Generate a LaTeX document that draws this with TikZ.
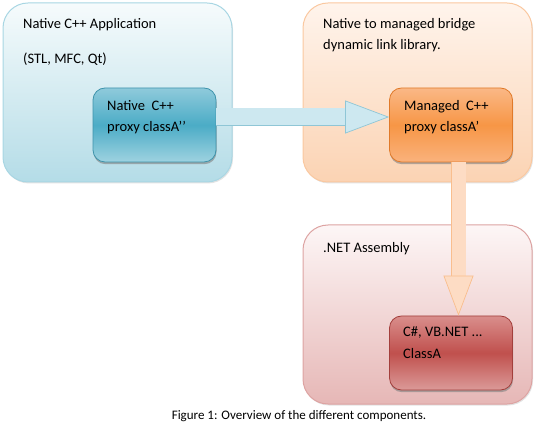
\documentclass[tikz,border=0pt]{standalone}
\usepackage{fontspec}
\setmainfont{Carlito}
\usetikzlibrary{arrows.meta, positioning, shadows, calc}
\definecolor{aqualine}{HTML}{A8D6E3}
\definecolor{aquatop}{HTML}{F6FBFC}
\definecolor{aquabot}{HTML}{B4DCE7}
\definecolor{aquadark}{HTML}{3E93AB}
\definecolor{aquahi}{HTML}{8FCADB}
\definecolor{aquamid}{HTML}{4BACC6}
\definecolor{aqualow}{HTML}{9ED2E0}
\definecolor{peachline}{HTML}{FAC8A0}
\definecolor{peachtop}{HTML}{FFF4EC}
\definecolor{peachbot}{HTML}{FBD3B3}
\definecolor{orgdark}{HTML}{E07A2A}
\definecolor{orghi}{HTML}{FAB886}
\definecolor{orgmid}{HTML}{F79646}
\definecolor{orglow}{HTML}{FAB27C}
\definecolor{roseline}{HTML}{DDA3A2}
\definecolor{rosetop}{HTML}{FDF6F6}
\definecolor{rosebot}{HTML}{E6B7B6}
\definecolor{reddark}{HTML}{A33F3C}
\definecolor{redhi}{HTML}{D98E8C}
\definecolor{redmid}{HTML}{C0504D}
\definecolor{redlow}{HTML}{DB9A98}
\definecolor{hflowfill}{HTML}{CDE8F0}
\definecolor{hflowline}{HTML}{8FC6D6}
\definecolor{vflowfill}{HTML}{FDDCC4}
\definecolor{vflowline}{HTML}{F9BE8E}
\tikzset{
  layer/.style={rectangle, rounded corners=25pt, line width=1pt,
    minimum width=229pt, minimum height=179pt,
    drop shadow={shadow xshift=1pt, shadow yshift=-1.5pt, opacity=0.22}},
  layer/app/.style={layer, draw=aqualine, top color=aquatop, bottom color=aquabot},
  layer/dll/.style={layer, draw=peachline, top color=peachtop, bottom color=peachbot},
  layer/net/.style={layer, draw=roseline, top color=rosetop, bottom color=rosebot},
  proxy/.style={rectangle, rounded corners=12pt, line width=0.8pt,
    minimum width=123pt, minimum height=74pt,
    drop shadow={shadow xshift=0.5pt, shadow yshift=-2.2pt, opacity=0.6}},
  proxy/app/.style={proxy, draw=aquadark, top color=aquahi, bottom color=aqualow, middle color=aquamid},
  proxy/dll/.style={proxy, draw=orgdark, top color=orghi, bottom color=orglow, middle color=orgmid},
  proxy/net/.style={proxy, draw=reddark, top color=redhi, bottom color=redlow, middle color=redmid},
  txt/.style={font=\fontsize{14.5}{21.5}\selectfont, align=left, inner sep=0pt, anchor=base west},
  figcap/.style={font=\fontsize{13}{15}\selectfont, inner sep=0pt, anchor=base},
  flow/h/.style={line width=17pt, draw=hflowfill,
    preaction={draw=hflowline, line width=18.6pt, arrows=-, shorten >=30pt},
    -{Triangle[width=33pt, length=44pt, line width=0.7pt, color=hflowline, fill=hflowfill]}},
  flow/v/.style={line width=14pt, draw=vflowfill,
    preaction={draw=vflowline, line width=15.6pt, arrows=-, shorten >=28pt},
    -{Triangle[width=30pt, length=40pt, line width=0.7pt, color=vflowline, fill=vflowfill]}},
}

\begin{document}
\begin{tikzpicture}[x=1pt, y=1pt]
\useasboundingbox (0,0) rectangle (537,428);

\node[layer/app] (APP) at (117.5,335.5) {};
\node[layer/dll] (DLL) at (417.5,335.5) {};
\node[layer/net] (NET) at (417.5,113.5) {};

% multi-line texts: anchor is the baseline of the last line
\node[txt] (APPT) at (23,399) {Native C++ Application};
\node[txt] (APPL) at (23,364) {(STL, MFC, Qt)};
\node[txt] (DLLT) at (323,378) {Native to managed bridge\\dynamic link library.};
\node[txt] (NETT) at (323,175) {.NET Assembly};

\node[proxy/app] (NAT) at (154.5,303) {};
\node[proxy/dll] (MGD) at (451,303) {};
\node[proxy/net] (CLS) at (451,75) {};

\node[txt] (NATT) at (107,296) {Native~ C++\\proxy classA’{}’};
\node[txt] (MGDT) at (404,296) {Managed~ C++\\proxy classA’};
\node[txt] (CLST) at (403,70) {C\#, VB.NET ...\\ClassA};

\node[figcap] (CAP) at (299,9) {Figure 1: Overview of the different components.};

\draw[flow/h] ($(NAT.east)+(0,8)$) -- ($(MGD.west)+(0,8)$);
\draw[flow/v] ($(MGD.south)+(7.5,0)$) -- ($(CLS.north)+(7.5,0)$);

\end{tikzpicture}
\end{document}
